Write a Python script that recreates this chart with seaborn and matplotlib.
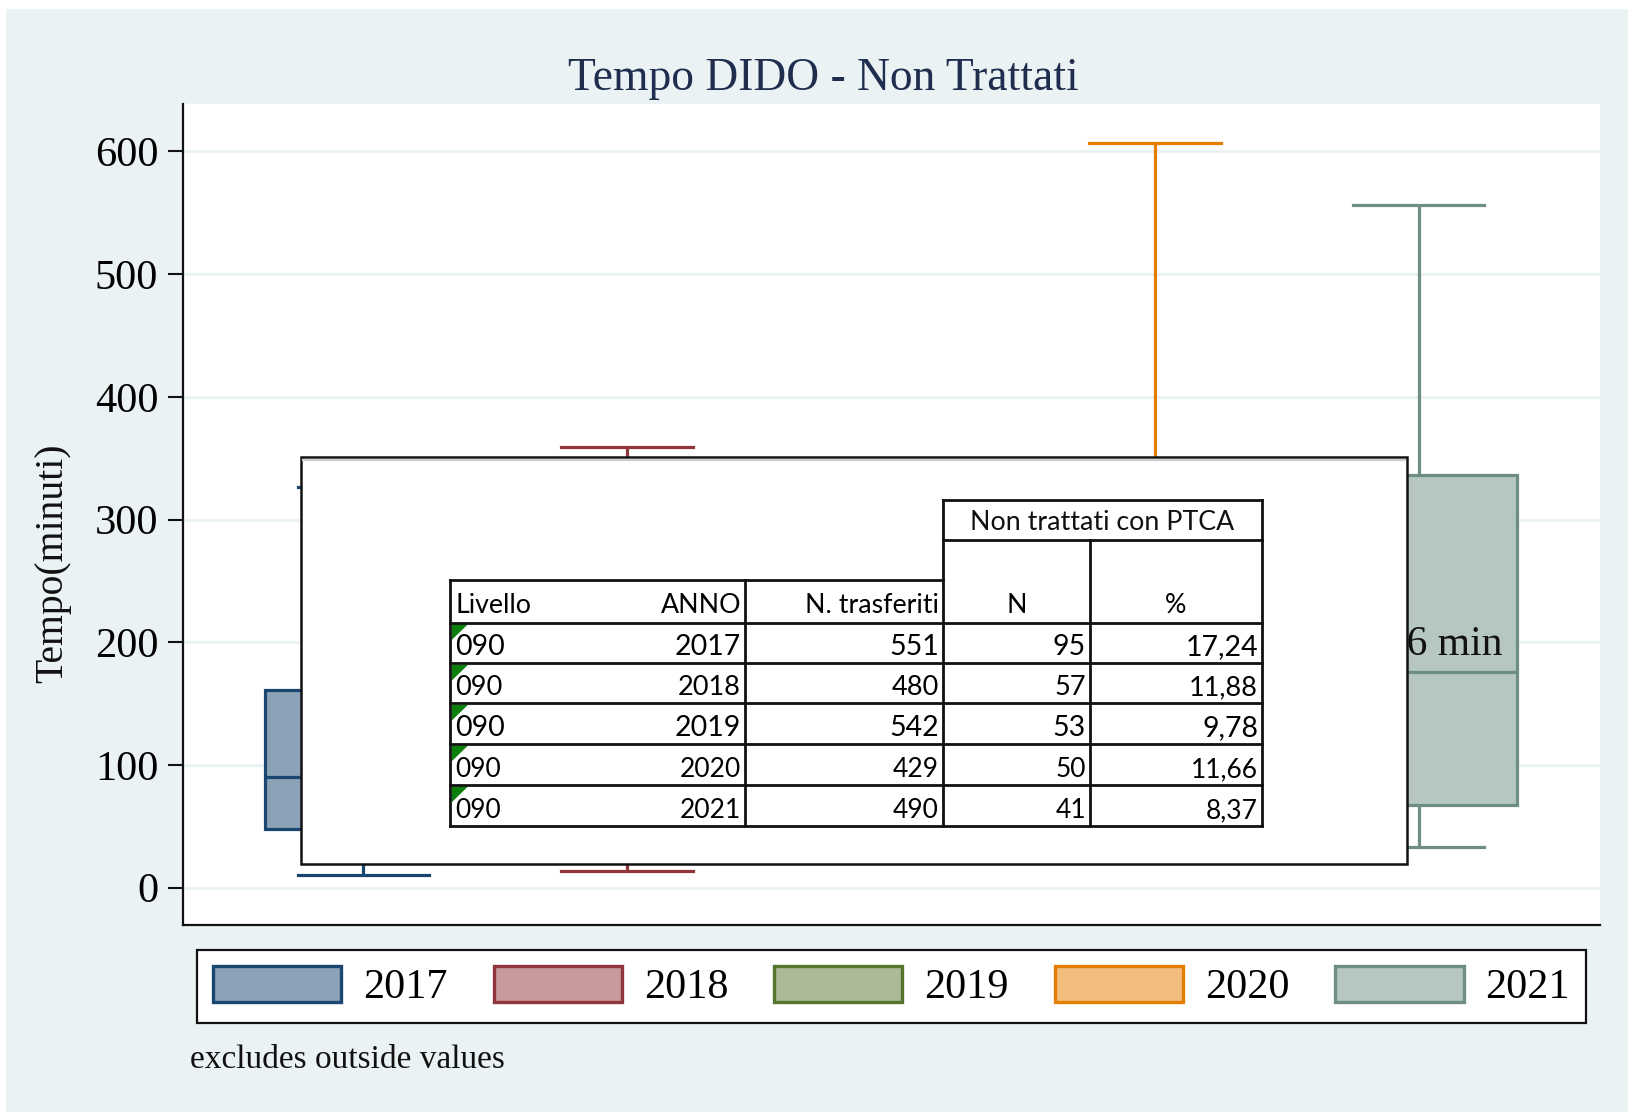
import numpy as np
import pandas as pd
import seaborn as sns
import matplotlib.pyplot as plt
from matplotlib.patches import Rectangle, Polygon, Patch

# box statistics (minutes)
years = ["2017", "2018", "2019", "2020", "2021"]
whisker_low = [10.3, 13.9, 22.0, 22.0, 33.4]
q1 = [47.8, 48.0, 50.0, 55.0, 67.4]
median = [90.5, 92.0, 90.0, 105.0, 176.0]
q3 = [161.1, 175.0, 170.0, 230.0, 336.2]
whisker_high = [326.3, 359.4, 330.0, 607.2, 556.4]

# table pasted over the chart
livello = ["090", "090", "090", "090", "090"]
anno = ["2017", "2018", "2019", "2020", "2021"]
n_trasferiti = [551, 480, 542, 429, 490]
n_non_trattati = [95, 57, 53, 50, 41]
pct_non_trattati = ["17,24", "11,88", "9,78", "11,66", "8,37"]

edge_colors = ["#1A476F", "#90353B", "#55752F", "#E37E00", "#6E8E84"]
fill_colors = ["#8CA3B7", "#C89A9D", "#AABA97", "#F1BE80", "#B6C6C1"]
bg = "#EAF2F3"
serif = ["Liberation Serif", "DejaVu Serif"]
sans = ["Lato", "DejaVu Sans"]

W, H = 1628, 1114
fig = plt.figure(figsize=(W / 100, H / 100), dpi=100, facecolor="white")
fig.add_artist(Rectangle((6 / W, 2 / H), (W - 6) / W, (1112 - 9) / H,
                         transform=fig.transFigure, facecolor=bg,
                         edgecolor="none", zorder=-5))

ax = fig.add_axes([182.5 / W, 1 - 925 / H, (1599.5 - 182.5) / W, (925 - 104) / H])
ax.set_facecolor("white")

rows = []
for i, y in enumerate(years):
    for v in (whisker_low[i], q1[i], median[i], q3[i], whisker_high[i]):
        rows.append({"year": y, "value": v})
df = pd.DataFrame(rows)

sns.boxplot(data=df, x="year", y="value", hue="year", order=years, hue_order=years,
            palette=dict(zip(years, fill_colors)), width=0.75, whis=(0, 100),
            linewidth=2.3, legend=False, capwidths=0.5, ax=ax)

for c in ax.containers:
    xs = c.boxes[0].get_path().vertices[:, 0]
    k = int(round((xs.min() + xs.max()) / 2))
    c.boxes[0].set_edgecolor(edge_colors[k])
    c.boxes[0].set_facecolor(fill_colors[k])
    for ln in list(c.whiskers) + list(c.caps) + list(c.medians):
        ln.set_color(edge_colors[k])
        ln.set_linewidth(2.3)

ax.set_xlim(-0.686, 4.686)
ax.set_ylim(-30.4, 638.7)
ax.set_yticks(range(0, 601, 100))
ax.set_xticks([])
ax.set_xlabel("")
ax.set_ylabel("")
ax.yaxis.grid(True, color=bg, linewidth=2.2)
ax.set_axisbelow(True)
for s in ("top", "right"):
    ax.spines[s].set_visible(False)
for s in ("left", "bottom"):
    ax.spines[s].set_color("#111111")
    ax.spines[s].set_linewidth(1.6)
ax.tick_params(axis="y", length=11, width=1.5, color="#111111", pad=6.5,
               labelsize=30.5)
for lab in ax.get_yticklabels():
    lab.set_fontfamily(serif)

# median label of the last box (mostly hidden by the table)
ax.text(4.318, 189.6, f"{int(median[4])} min", ha="right", va="baseline",
        fontsize=30, family=serif, color="#111111", zorder=6)

fig.text(823 / W, 1 - 90 / H, "Tempo DIDO - Non Trattati", ha="center",
         va="baseline", fontsize=32.8, family=serif, color="#1F2D4E")
fig.text(53 / W, 1 - 563 / H, "Tempo(minuti)", rotation=90, ha="center",
         va="center", fontsize=28.5, family=serif, color="#111111")
fig.text(190 / W, 1 - 1068 / H, "excludes outside values", ha="left",
         va="baseline", fontsize=24, family=serif, color="#111111")

handles = [Patch(facecolor=f, edgecolor=e, linewidth=2.4)
           for f, e in zip(fill_colors, edge_colors)]
leg = fig.legend(handles, years, loc="center",
                 bbox_to_anchor=(891.5 / W, 1 - 986.5 / H), ncol=5,
                 frameon=True, fancybox=False, edgecolor="#111111",
                 facecolor="white", framealpha=1, handlelength=3.05,
                 handleheight=0.93, handletextpad=0.52, columnspacing=1.09,
                 borderpad=0.38, prop={"family": serif, "size": 30.3})
leg.get_frame().set_linewidth(1.6)

# overlay with the pasted table, in pixel units
ov = fig.add_axes([0, 0, 1, 1], zorder=10)
ov.set_xlim(0, W)
ov.set_ylim(H, 0)
ov.axis("off")
ov.patch.set_alpha(0)

ov.add_patch(Rectangle((301, 457), 1407 - 301, 864 - 457, facecolor="white",
                       edgecolor="#111111", linewidth=1.8))
ov.plot([303, 1405], [460, 460], color="#cfcfcf", linewidth=1.6)

row_lines = [622.7, 663.3, 703.3, 744, 785, 826]
kw = dict(color="#111111", linewidth=2.0, solid_capstyle="projecting")
for y in [500, 540]:
    ov.plot([943, 1262], [y, y], **kw)
ov.plot([450, 943], [580, 580], **kw)
for y in row_lines:
    ov.plot([450, 1262], [y, y], **kw)
ov.plot([450, 450], [580, 826], **kw)
ov.plot([745, 745], [580, 826], **kw)
ov.plot([943, 943], [500, 826], **kw)
ov.plot([1090, 1090], [540, 826], **kw)
ov.plot([1262, 1262], [500, 826], **kw)

hs = 19.3
ov.text(1102.5, 530, "Non trattati con PTCA", ha="center", va="baseline",
        fontsize=hs, family=sans, color="#111111")
ov.text(455, 613, "Livello", ha="left", va="baseline", fontsize=hs, family=sans)
ov.text(741, 613, "ANNO", ha="right", va="baseline", fontsize=hs, family=sans)
ov.text(939, 613, "N. trasferiti", ha="right", va="baseline", fontsize=hs, family=sans)
ov.text(1016.5, 613, "N", ha="center", va="baseline", fontsize=hs, family=sans)
ov.text(1176, 613, "%", ha="center", va="baseline", fontsize=hs, family=sans)

sizes = [20.5, 19.5, 20.5, 19, 19]
for i in range(5):
    top, bot = row_lines[i], row_lines[i + 1]
    base = bot - 8
    fs = sizes[i]
    ov.add_patch(Polygon([[452, top + 1.5], [468, top + 1.5], [452, top + 17]],
                         closed=True, facecolor="#0B7F0B", edgecolor="none"))
    ov.text(455, base, livello[i], ha="left", va="baseline", fontsize=fs, family=sans)
    ov.text(741, base, anno[i], ha="right", va="baseline", fontsize=fs, family=sans)
    ov.text(939, base, str(n_trasferiti[i]), ha="right", va="baseline", fontsize=fs, family=sans)
    ov.text(1086, base, str(n_non_trattati[i]), ha="right", va="baseline", fontsize=fs, family=sans)
    ov.text(1258, base, pct_non_trattati[i], ha="right", va="baseline", fontsize=fs, family=sans)

fig.savefig("out.png", dpi=100, facecolor=fig.get_facecolor())
